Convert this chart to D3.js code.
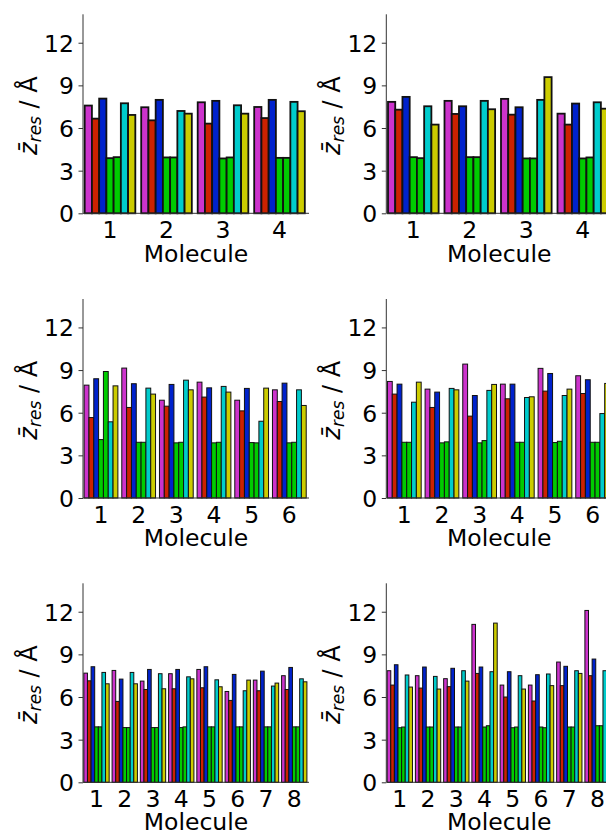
<!DOCTYPE html>
<html>
<head>
<meta charset="utf-8">
<script src="https://cdn.jsdelivr.net/npm/d3@7"></script>
<style>
  html, body { margin: 0; padding: 0; background: #fff; }
  svg { display: block; }
  text { font-family: "DejaVu Sans", sans-serif; fill: #000; }
</style>
</head>
<body>
<div id="chart"></div>
<script>
// Seven residue series per molecule, drawn in this order within each group
const seriesNames = ["s1", "s2", "s3", "s4", "s5", "s6", "s7"];
const seriesColors = ["#cc33cc", "#cc2200", "#0022cc", "#00cc00", "#00cc00", "#00cccc", "#cccc00"];

// Mean residue height per molecule (rows = molecules, columns = series)
const panelA = [
  [7.58, 6.66, 8.07, 3.88, 3.95, 7.74, 6.92],
  [7.46, 6.54, 7.98, 3.93, 3.93, 7.20, 7.01],
  [7.81, 6.31, 7.91, 3.86, 3.93, 7.60, 7.01],
  [7.48, 6.70, 7.98, 3.90, 3.90, 7.84, 7.18]
];
const panelB = [
  [7.84, 7.29, 8.19, 3.95, 3.88, 7.53, 6.24],
  [7.91, 6.99, 7.53, 3.95, 3.95, 7.91, 7.32],
  [8.05, 6.94, 7.46, 3.86, 3.86, 7.98, 9.58],
  [7.01, 6.24, 7.72, 3.86, 3.93, 7.81, 7.36]
];
const panelC = [
  [7.94, 5.66, 8.39, 4.11, 8.90, 5.36, 7.89],
  [9.14, 6.37, 8.04, 3.92, 3.92, 7.73, 7.31],
  [6.88, 6.46, 7.99, 3.88, 3.92, 8.29, 7.61],
  [8.15, 7.10, 7.75, 3.88, 3.92, 7.85, 7.45],
  [6.88, 6.13, 7.71, 3.90, 3.88, 5.40, 7.73],
  [7.61, 6.79, 8.08, 3.88, 3.92, 7.61, 6.51]
];
const panelD = [
  [8.20, 7.31, 8.01, 3.92, 3.92, 6.74, 8.15],
  [7.66, 6.37, 7.45, 3.88, 3.95, 7.71, 7.61],
  [9.42, 5.76, 7.21, 3.88, 4.04, 7.57, 7.99],
  [8.01, 6.98, 8.01, 3.92, 3.92, 7.07, 7.12],
  [9.12, 7.52, 8.76, 3.90, 3.99, 7.21, 7.66],
  [8.60, 7.35, 8.32, 3.92, 3.92, 5.94, 8.06]
];
const panelE = [
  [7.68, 7.14, 8.13, 3.90, 3.90, 7.73, 6.93],
  [7.87, 5.69, 7.26, 3.85, 3.85, 7.73, 6.93],
  [7.12, 6.53, 7.94, 3.85, 3.85, 7.64, 6.58],
  [7.64, 6.58, 7.94, 3.85, 3.90, 7.42, 7.28],
  [7.94, 6.65, 8.13, 3.90, 3.90, 7.21, 6.72],
  [6.39, 5.76, 7.59, 3.90, 3.90, 6.44, 7.19],
  [7.19, 6.44, 7.82, 3.90, 3.90, 6.77, 6.98],
  [7.50, 6.53, 8.08, 3.90, 3.90, 7.28, 7.07]
];
const panelF = [
  [7.85, 6.84, 8.27, 3.84, 3.89, 7.55, 6.70],
  [7.50, 6.63, 8.11, 3.89, 3.89, 7.45, 6.56],
  [7.29, 6.73, 8.02, 3.89, 3.89, 7.85, 7.12],
  [11.11, 7.66, 8.11, 3.89, 3.98, 7.78, 11.20],
  [6.84, 6.00, 7.78, 3.84, 3.89, 7.50, 6.56],
  [6.84, 5.72, 7.57, 3.89, 3.84, 7.62, 6.80],
  [8.46, 6.80, 8.16, 3.89, 3.89, 7.85, 7.66],
  [12.09, 7.50, 8.67, 3.98, 3.98, 7.85, 9.25]
];

const yTicks = [0, 3, 6, 9, 12];
const xTitle = "Molecule";

const W = 606, H = 832;
const FS = 23.5;
const svg = d3.select("#chart").append("svg")
  .attr("width", W).attr("height", H);

// Panel layout: left edge of plot area, y of the zero line, and edge width
const panels = [
  { data: panelA, left: 83,    base: 213.3, lw: 1.8 },
  { data: panelB, left: 386.3, base: 213.3, lw: 1.8 },
  { data: panelC, left: 83,    base: 498.0, lw: 1.0 },
  { data: panelD, left: 386.3, base: 498.0, lw: 1.0 },
  { data: panelE, left: 83,    base: 782.3, lw: 1.0 },
  { data: panelF, left: 386.3, base: 782.3, lw: 1.0 }
];

const plotW = 226;      // width of each plot area in px
const plotH = 199;      // height covering 0..14
const barW = 0.128;     // bar width in molecule units
const barOff = 0.03;    // gap before the first bar of a group

const defs = svg.append("defs");

panels.forEach((p, pi) => {
  const n = p.data.length;
  const x = d3.scaleLinear().domain([0, n]).range([p.left, p.left + plotW]);
  const y = d3.scaleLinear().domain([0, 14]).range([p.base, p.base - plotH]);

  const g = svg.append("g");

  defs.append("clipPath").attr("id", "clip" + pi)
    .append("rect")
    .attr("x", p.left).attr("y", p.base - plotH - 5)
    .attr("width", plotW).attr("height", plotH + 10);

  // bars
  const rows = p.data.flatMap((vals, gi) =>
    vals.map((v, si) => ({ gi, si, v })));
  g.append("g").attr("clip-path", `url(#clip${pi})`)
    .selectAll("rect").data(rows).join("rect")
    .attr("x", d => x(d.gi + barOff + d.si * barW))
    .attr("width", d => x(barW) - x(0))
    .attr("y", d => y(d.v))
    .attr("height", d => y(0) - y(d.v))
    .attr("fill", d => seriesColors[d.si])
    .attr("stroke", "#111")
    .attr("stroke-width", p.lw);

  // y axis
  const yAxis = d3.axisLeft(y).tickValues(yTicks).tickSize(4.5).tickPadding(4.5)
    .tickFormat(d3.format("d"));
  const ya = g.append("g").attr("transform", `translate(${p.left},0)`).call(yAxis);
  ya.select(".domain").remove();
  ya.selectAll(".tick line").attr("stroke", "#333").attr("stroke-width", 1);
  ya.selectAll(".tick text")
    .attr("font-size", FS).attr("font-family", "DejaVu Sans")
    .attr("dy", "0.36em").attr("fill", "#000");

  // left spine spanning the full y range
  g.append("line")
    .attr("x1", p.left).attr("x2", p.left)
    .attr("y1", y(0)).attr("y2", y(14))
    .attr("stroke", "#333").attr("stroke-width", 1);

  // bottom spine, clipped with the plot area
  g.append("line").attr("clip-path", `url(#clip${pi})`)
    .attr("x1", p.left).attr("x2", p.left + plotW)
    .attr("y1", y(0)).attr("y2", y(0))
    .attr("stroke", "#333").attr("stroke-width", 1);

  // molecule labels at group centres
  const cats = d3.range(1, n + 1);
  g.append("g").selectAll("text").data(cats).join("text")
    .attr("x", c => x(c - 1 + barOff + 3.5 * barW))
    .attr("y", y(0) + 24.5)
    .attr("text-anchor", "middle")
    .attr("font-size", FS)
    .text(c => c);

  g.append("text")
    .attr("x", p.left + plotW / 2)
    .attr("y", Math.min(y(0) + 48.4, H - 2.5))
    .attr("text-anchor", "middle")
    .attr("font-size", FS)
    .text(xTitle);

  // y title: z-bar_res / Å, centred on the plot height
  const cy = (y(0) + y(14)) / 2 + 2;
  const yt = g.append("text")
    .attr("text-anchor", "start")
    .attr("font-size", 24);
  yt.append("tspan").attr("font-style", "italic").text("z\u0304");
  yt.append("tspan").attr("font-style", "italic").attr("font-size", 17)
    .attr("dy", 4).text("res");
  yt.append("tspan").attr("dy", -4).text(" / \u00C5");
  const bb = yt.node().getBBox();
  const mid = bb.x + bb.width / 2;
  yt.attr("transform", `translate(${p.left - 46},${cy + mid}) rotate(-90)`);
});
</script>
</body>
</html>
